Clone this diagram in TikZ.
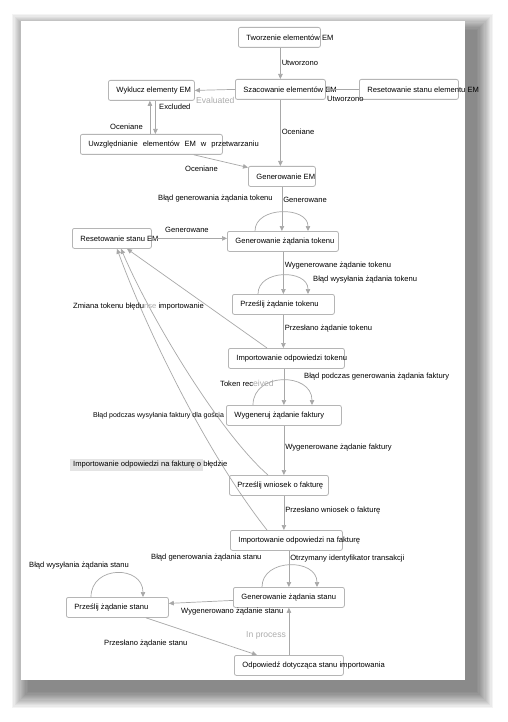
\documentclass[tikz,border=0pt]{standalone}
\usepackage{fontspec}
\setmainfont{Liberation Sans}
\usetikzlibrary{arrows.meta}
\definecolor{ramka}{HTML}{B5B5B5}
\definecolor{linia}{HTML}{A8A8A8}
\definecolor{jasny}{HTML}{ADADAD}
\definecolor{tlo}{HTML}{E4E4E4}
\newcommand{\napis}[2]{\makebox[#1][l]{#2}}

\begin{document}
\begin{tikzpicture}[x=1pt,y=-1pt,font=\fontsize{7.6}{9}\selectfont,
	stan/.style={draw=ramka,line width=0.8pt,rounded corners=2pt,fill=white,
		anchor=north west,inner xsep=8pt,inner ysep=0pt,minimum height=20pt},
	opis/.style={inner sep=1pt,anchor=west},
	szary/.style={text=jasny,font=\fontsize{8.6}{10}\selectfont},
	przejscie/.style={draw=linia,line width=0.7pt,-{Triangle[length=5pt,width=4.5pt]}}]
	\useasboundingbox (0,0) rectangle (507,722);
	% page and its shadow
	\foreach \i in {1,...,14}
		\fill[black,opacity=0.045] (29-1.2*\i,31-1.2*\i) rectangle (476+1.2*\i,691+1.2*\i);
	\fill[white] (21,21) rectangle (465,680);
	\fill[tlo] (70,459) rectangle (203,471);

	% states
	\node[stan] (tworz) at (238,27) {\napis{66pt}{Tworzenie elementów EM}};
	\node[stan] (szac) at (235,79) {\napis{74pt}{Szacowanie elementów EM}};
	\node[stan] (resElem) at (359,79) {\napis{83pt}{Resetowanie stanu elementu EM}};
	\node[stan] (wyklucz) at (108,80) {\napis{70pt}{Wyklucz elementy EM}};
	\node[stan] (uwzgl) at (80,134) {\napis{126pt}{\spaceskip=5pt Uwzględnianie elementów EM w przetwarzaniu}};
	\node[stan] (genEM) at (248,166) {\napis{51pt}{Generowanie EM}};
	\node[stan] (resEM) at (72,228) {\napis{63pt}{Resetowanie stanu EM}};
	\node[stan] (genTok) at (227,231) {\napis{95pt}{Generowanie żądania tokenu}};
	\node[stan] (przTok) at (232,294) {\napis{86pt}{Prześlij żądanie tokenu}};
	\node[stan] (impTok) at (228,348) {\napis{100pt}{Importowanie odpowiedzi tokenu}};
	\node[stan] (wygFakt) at (226,405) {\napis{99pt}{Wygeneruj żądanie faktury}};
	\node[stan] (przWn) at (229,475) {\napis{83pt}{Prześlij wniosek o fakturę}};
	\node[stan] (impFakt) at (230,530) {\napis{96pt}{Importowanie odpowiedzi na fakturę}};
	\node[stan] (genStan) at (233,587) {\napis{95pt}{Generowanie żądania stanu}};
	\node[stan] (przStan) at (66,597) {\napis{86pt}{Prześlij żądanie stanu}};
	\node[stan] (odp) at (234,655) {\napis{93pt}{Odpowiedź dotycząca stanu importowania}};

	% transitions
	\path (szac.north |- tworz.south) edge[przejscie] node[opis] (lUtw) {Utworzono} (szac.north);
	\path (szac.west) edge[przejscie] (wyklucz.east);
	\path (resElem.west) edge[przejscie] (szac.east);
	\path ([xshift=-1.5pt]wyklucz.south |- uwzgl.north) edge[przejscie] ([xshift=-1.5pt]wyklucz.south);
	\path ([xshift=4pt]wyklucz.south) edge[przejscie] ([xshift=4pt]wyklucz.south |- uwzgl.north);
	\path (szac.south) edge[przejscie] node[opis,pos=0.48] (lOc) {Oceniane} (szac.south |- genEM.north);
	\path ([xshift=-29pt]uwzgl.south east) edge[przejscie] ([yshift=-1.5pt]genEM.north west);
	\path (genEM.south) edge[przejscie] node[opis,pos=0.3] (lGen) {Generowane} (genEM.south |- genTok.north);
	\draw[przejscie] ([xshift=28pt]genTok.north west) .. controls +(0,-25) and +(0,-25) .. ([xshift=81pt]genTok.north west);
	\path (resEM.east) edge[przejscie] (resEM.east -| genTok.west);
	\path (genTok.south -| przTok.north) edge[przejscie] node[opis,pos=0.33] (lWygTok) {Wygenerowane żądanie tokenu} (przTok.north);
	\draw[przejscie] ([xshift=26pt]przTok.north west) .. controls +(0,-25) and +(0,-25) .. ([xshift=76pt]przTok.north west);
	\path (przTok.south) edge[przejscie] node[opis,pos=0.4] (lPrzTok) {Przesłano żądanie tokenu} (przTok.south |- impTok.north);
	\path (wygFakt.north |- impTok.south) edge[przejscie] (wygFakt.north);
	\draw[przejscie] ([xshift=27pt]wygFakt.north west) .. controls +(0,-33) and +(0,-33) .. ([xshift=86pt]wygFakt.north west);
	\path (wygFakt.south) edge[przejscie] node[opis,pos=0.45] (lWygF) {Wygenerowane żądanie faktury} (wygFakt.south |- przWn.north);
	\path (wygFakt.south |- przWn.south) edge[przejscie] node[opis,pos=0.42] (lPrzWn) {Przesłano wniosek o fakturę} (wygFakt.south |- impFakt.north);
	\path (genStan.north |- impFakt.south) edge[przejscie] node[opis,pos=0.22] (lOtrz) {Otrzymany identyfikator transakcji} (genStan.north);
	\draw[przejscie] ([xshift=29pt]genStan.north west) .. controls +(0,-29) and +(0,-29) .. ([xshift=84pt]genStan.north west);
	\path ([yshift=-3pt]genStan.west) edge[przejscie] ([yshift=4pt]przStan.east);
	\draw[przejscie] ([xshift=25pt]przStan.north west) .. controls +(0,-32) and +(0,-32) .. ([xshift=77pt]przStan.north west);
	\path ([xshift=80pt]przStan.south west) edge[przejscie] ([xshift=23pt]odp.north west);
	\path (odp.north) edge[przejscie] (genStan.south);
	% back to Resetowanie stanu EM
	\path ([xshift=39pt]impTok.north west) edge[przejscie] ([xshift=55pt]resEM.south west);
	\draw[przejscie] ([xshift=39pt]przWn.north west) .. controls +(-48,-42) and +(30,70) .. ([xshift=49pt]resEM.south west);
	\draw[przejscie] ([xshift=37pt]impFakt.north west) .. controls +(-60,-76) and +(30,82) .. ([xshift=45pt]resEM.south west);

	% labels
	\node[opis,szary] (lEval) at (195,100) {Evaluated};
	\node[opis] (lUtw2) at (326,99) {Utworzono};
	\node[opis] (lExcl) at (158,107) {Excluded};
	\node[opis] (lOc2) at (109,127) {Oceniane};
	\node[opis] (lOc3) at (184,169) {Oceniane};
	\node[opis] (lBladTok) at (157,199) {Błąd generowania żądania tokenu};
	\node[opis] (lGen2) at (164,230) {Generowane};
	\node[opis] (lBladWys) at (312,280) {Błąd wysyłania żądania tokenu};
	\node[opis] (lZmiana) at (72,307) {Zmiana tokenu błędu{\color{jasny}nse} importowanie};
	\node[opis] (lToken) at (219,383) {Token rec{\fontsize{8.6}{10}\selectfont\color{jasny}eived}};
	\node[opis] (lBladFakt) at (303,377) {Błąd podczas generowania żądania faktury};
	\node[opis,font=\fontsize{7}{8}\selectfont] (lGosc) at (92,416) {Błąd podczas wysyłania faktury dla gościa};
	\node[opis] (lImpBlad) at (72,465) {Importowanie odpowiedzi na fakturę o błędzie};
	\node[opis] (lBladStan) at (150,558) {Błąd generowania żądania stanu};
	\node[opis] (lBladWysSt) at (28,566) {Błąd wysyłania żądania stanu};
	\node[opis] (lWygSt) at (180,612) {Wygenerowano żądanie stanu};
	\node[opis] (lPrzSt) at (103,644) {Przesłano żądanie stanu};
	\node[opis,szary] (lProc) at (245,635) {In process};
\end{tikzpicture}
\end{document}
